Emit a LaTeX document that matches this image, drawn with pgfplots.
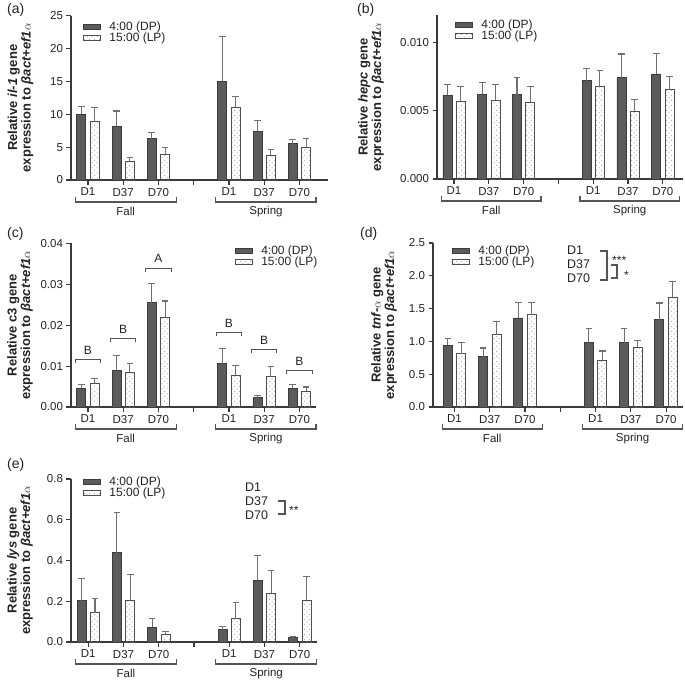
\documentclass[border=0pt]{standalone}
\usepackage{fontspec}
\setmainfont{Liberation Sans}
\usepackage{pgfplots}
\pgfplotsset{compat=1.18}
\usetikzlibrary{patterns.meta}
\definecolor{dpfill}{HTML}{5B5B5B}
\definecolor{dpedge}{HTML}{3C3C3C}
\definecolor{lpedge}{HTML}{4F4F4F}
\definecolor{errc}{HTML}{707070}
\definecolor{axisc}{HTML}{3A3A3A}
\definecolor{textc}{HTML}{222222}
\definecolor{brkc}{HTML}{555555}
\definecolor{dotc}{HTML}{8A8A8A}
\newcommand{\fs}[1]{\fontsize{#1bp}{#1bp}\selectfont}

\tikzdeclarepattern{
  name=lpdots,
  type=uncolored,
  bottom left={(0bp,0bp)},
  top right={(5.4bp,5.4bp)},
  tile size={(5.4bp,5.4bp)},
  code={
    \pgfpathcircle{\pgfpoint{1.35bp}{1.35bp}}{0.55bp}
    \pgfpathcircle{\pgfpoint{4.05bp}{4.05bp}}{0.55bp}
    \pgfusepath{fill}
  }
}

\pgfplotsset{
  panel/.style={
    scale only axis, clip=false, ymin=0,
    axis x line*=bottom, axis y line*=left,
    axis line style={draw=axisc, line width=1.2bp},
    every tick/.style={draw=axisc, line width=1.1bp},
    major tick length=4.5bp, tick align=outside,
    xtick={0,1,2,3,4,5,6},
    xticklabels={D1,D37,D70,,D1,D37,D70},
    ticklabel style={font=\fs{11.5}, text=textc},
    scaled y ticks=false,
    ylabel style={font=\bfseries\fontsize{13bp}{13.5bp}\selectfont, align=center, anchor=center, text=textc},
    legend cell align=left,
    legend style={draw=none, fill=none, anchor=north west, font=\fs{12}, inner sep=0pt, row sep=0pt, column sep=8bp, nodes={inner sep=0.4bp, text=textc}},
  },
  common/.style={ybar, bar width=9bp, bar shift=0pt, line width=0.8bp,
    legend image code/.code={\draw[##1] (0bp,-2.6bp) rectangle (17bp,2.6bp);},
    error bars/y dir=plus, error bars/y explicit,
    error bars/error bar style={draw=errc, line width=1.1bp},
    error bars/error mark options={draw=errc, line width=1.1bp, mark size=3.3bp, rotate=90}},
  dp/.style={common, fill=dpfill, draw=dpedge, x filter/.expression={x-0.19}},
  lp/.style={common, fill=white, pattern={lpdots}, pattern color=dotc, draw=lpedge, x filter/.expression={x+0.19}},
}

\newcommand{\groups}{%
  \draw[brkc, line width=1.1bp] ([yshift=-16.5bp]axis cs:-0.35,0) -- ([yshift=-22bp]axis cs:-0.35,0) -- ([yshift=-22bp]axis cs:2.5,0) -- ([yshift=-16.5bp]axis cs:2.5,0);
  \draw[brkc, line width=1.1bp] ([yshift=-16.5bp]axis cs:3.62,0) -- ([yshift=-22bp]axis cs:3.62,0) -- ([yshift=-22bp]axis cs:6.47,0) -- ([yshift=-16.5bp]axis cs:6.47,0);
  \node[font=\fs{11.5}, text=textc] at ([yshift=-31.5bp]axis cs:1.07,0) {Fall};
  \node[font=\fs{11.5}, text=textc] at ([yshift=-31.5bp]axis cs:5.05,0) {Spring};
}
\newcommand{\lett}[4]{% x, bracket y, letter y, letter
  \draw[brkc, line width=1.1bp] (axis cs:#1-0.36,#2-0.001) -- (axis cs:#1-0.36,#2) -- (axis cs:#1+0.36,#2) -- (axis cs:#1+0.36,#2-0.001);
  \node[font=\fs{12}, text=textc] at (axis cs:#1,#3) {#4};
}

\begin{document}
\begin{tikzpicture}
\useasboundingbox (0,0) rectangle (685bp,-680bp);

% panel labels
\node[anchor=base west, font=\fs{14}, text=textc, inner sep=0pt] at (7bp,-13bp) {(a)};
\node[anchor=base west, font=\fs{14}, text=textc, inner sep=0pt] at (357bp,-13bp) {(b)};
\node[anchor=base west, font=\fs{14}, text=textc, inner sep=0pt] at (7bp,-237bp) {(c)};
\node[anchor=base west, font=\fs{14}, text=textc, inner sep=0pt] at (360bp,-237bp) {(d)};
\node[anchor=base west, font=\fs{14}, text=textc, inner sep=0pt] at (7bp,-468bp) {(e)};

% (a)
\begin{axis}[panel, at={(71bp,-180bp)}, anchor=south west, width=257bp, height=164.3bp,
  xmin=-0.482, xmax=6.81, ymax=25, ytick={0,5,10,15,20,25}, yticklabels={0,5,10,15,20,25},
  ylabel={Relative \textit{il-1} gene\\expression to \textit{βact+ef1}$\alpha$},
  ylabel style={at={(axis description cs:-0.196,0.5)}},
  legend style={at={(axis description cs:0.047,0.968)}}]
\addplot[dp] coordinates {(0,10.0) +- (0,1.25) (1,8.2) +- (0,2.3) (2,6.3) +- (0,0.9) (4,15.0) +- (0,6.8) (5,7.45) +- (0,1.6) (6,5.55) +- (0,0.6)};
\addplot[lp] coordinates {(0,8.9) +- (0,2.15) (1,2.9) +- (0,0.5) (2,3.95) +- (0,0.95) (4,11.05) +- (0,1.65) (5,3.75) +- (0,0.9) (6,5.0) +- (0,1.35)};
\legend{4:00 (DP),15:00 (LP)}
\groups
\end{axis}

% (b)
\begin{axis}[panel, at={(437bp,-179bp)}, anchor=south west, width=246bp, height=164bp,
  xmin=-0.489, xmax=6.58, ymax=0.012, ytick={0,0.005,0.010}, yticklabels={0.000,0.005,0.010},
  ylabel={Relative \textit{hepc} gene\\expression to \textit{βact+ef1}$\alpha$},
  ylabel style={at={(axis description cs:-0.268,0.5)}},
  legend style={at={(axis description cs:0.073,0.972)}}]
\addplot[dp] coordinates {(0,0.00611) +- (0,0.00082) (1,0.0062) +- (0,0.00086) (2,0.00616) +- (0,0.00126) (4,0.0072) +- (0,0.0009) (5,0.0074) +- (0,0.00175) (6,0.00769) +- (0,0.00148)};
\addplot[lp] coordinates {(0,0.00569) +- (0,0.00105) (1,0.00577) +- (0,0.00116) (2,0.0056) +- (0,0.00114) (4,0.00676) +- (0,0.00117) (5,0.00494) +- (0,0.0009) (6,0.00654) +- (0,0.00095)};
\legend{4:00 (DP),15:00 (LP)}
\groups
\end{axis}

% (c)
\begin{axis}[panel, at={(71bp,-407bp)}, anchor=south west, width=245bp, height=163.7bp,
  xmin=-0.482, xmax=6.47, ymax=0.04, ytick={0,0.01,0.02,0.03,0.04}, yticklabels={0.00,0.01,0.02,0.03,0.04},
  ylabel={Relative c3 gene\\expression to \textit{βact+ef1}$\alpha$},
  ylabel style={at={(axis description cs:-0.208,0.5)}},
  legend style={at={(axis description cs:0.669,0.986)}}]
\addplot[dp] coordinates {(0,0.00456) +- (0,0.00104) (1,0.00895) +- (0,0.00365) (2,0.02545) +- (0,0.00475) (4,0.0106) +- (0,0.0038) (5,0.0023) +- (0,0.0005) (6,0.0046) +- (0,0.0008)};
\addplot[lp] coordinates {(0,0.00578) +- (0,0.00129) (1,0.00854) +- (0,0.00216) (2,0.022) +- (0,0.0039) (4,0.0078) +- (0,0.0024) (5,0.0074) +- (0,0.0026) (6,0.0039) +- (0,0.001)};
\legend{4:00 (DP),15:00 (LP)}
\groups
\lett{0}{0.0117}{0.0139}{B}
\lett{1}{0.0168}{0.019}{B}
\lett{2}{0.0339}{0.0362}{A}
\lett{4}{0.0183}{0.0205}{B}
\lett{5}{0.0141}{0.0163}{B}
\lett{6}{0.009}{0.0112}{B}
\end{axis}

% (d)
\begin{axis}[panel, at={(433bp,-407bp)}, anchor=south west, width=250bp, height=164bp,
  xmin=-0.61, xmax=6.48, ymax=2.5, ytick={0,0.5,1,1.5,2,2.5}, yticklabels={0.0,0.5,1.0,1.5,2.0,2.5},
  ylabel={Relative \textit{tnf-}$\alpha$ gene\\expression to \textit{βact+ef1}$\alpha$},
  ylabel style={at={(axis description cs:-0.196,0.5)}},
  legend style={at={(axis description cs:0.076,0.986)}}]
\addplot[dp] coordinates {(0,0.945) +- (0,0.105) (1,0.767) +- (0,0.133) (2,1.357) +- (0,0.238) (4,0.98) +- (0,0.22) (5,0.98) +- (0,0.22) (6,1.33) +- (0,0.255)};
\addplot[lp] coordinates {(0,0.81) +- (0,0.175) (1,1.10) +- (0,0.206) (2,1.408) +- (0,0.187) (4,0.716) +- (0,0.138) (5,0.915) +- (0,0.105) (6,1.677) +- (0,0.233)};
\legend{4:00 (DP),15:00 (LP)}
\groups
\end{axis}

% (e)
\begin{axis}[panel, at={(71bp,-642bp)}, anchor=south west, width=246bp, height=163bp,
  xmin=-0.49, xmax=6.49, ymax=0.8, ytick={0,0.2,0.4,0.6,0.8}, yticklabels={0.0,0.2,0.4,0.6,0.8},
  ylabel={Relative \textit{lys} gene\\expression to \textit{βact+ef1}$\alpha$},
  ylabel style={at={(axis description cs:-0.207,0.5)}},
  legend style={at={(axis description cs:0.049,1.017)}}]
\addplot[dp] coordinates {(0,0.2025) +- (0,0.1075) (1,0.439) +- (0,0.196) (2,0.0735) +- (0,0.044) (4,0.06) +- (0,0.017) (5,0.302) +- (0,0.121) (6,0.021) +- (0,0.005)};
\addplot[lp] coordinates {(0,0.144) +- (0,0.0715) (1,0.204) +- (0,0.129) (2,0.039) +- (0,0.013) (4,0.114) +- (0,0.082) (5,0.24) +- (0,0.111) (6,0.204) +- (0,0.116)};
\legend{4:00 (DP),15:00 (LP)}
\groups
\end{axis}

% significance annotations (d)
\node[anchor=west, font=\fs{12.5}, text=textc, inner sep=0pt] at (567bp,-250bp) {D1};
\node[anchor=west, font=\fs{12.5}, text=textc, inner sep=0pt] at (567bp,-264bp) {D37};
\node[anchor=west, font=\fs{12.5}, text=textc, inner sep=0pt] at (567bp,-278bp) {D70};
\draw[brkc, line width=1.1bp] (600bp,-251bp) -- (607bp,-251bp) -- (607bp,-280bp) -- (600bp,-280bp);
\draw[brkc, line width=1.1bp] (611bp,-265bp) -- (617bp,-265bp) -- (617bp,-278bp) -- (611bp,-278bp);
\node[anchor=west, font=\fs{12}, text=textc, inner sep=0pt] at (612bp,-260bp) {***};
\node[anchor=west, font=\fs{12}, text=textc, inner sep=0pt] at (624bp,-275bp) {*};
% significance annotations (e)
\node[anchor=west, font=\fs{12.5}, text=textc, inner sep=0pt] at (245bp,-487bp) {D1};
\node[anchor=west, font=\fs{12.5}, text=textc, inner sep=0pt] at (245bp,-501bp) {D37};
\node[anchor=west, font=\fs{12.5}, text=textc, inner sep=0pt] at (245bp,-515bp) {D70};
\draw[brkc, line width=1.1bp] (278bp,-501bp) -- (285bp,-501bp) -- (285bp,-514bp) -- (278bp,-514bp);
\node[anchor=west, font=\fs{12}, text=textc, inner sep=0pt] at (289bp,-510bp) {**};
\end{tikzpicture}
\end{document}
